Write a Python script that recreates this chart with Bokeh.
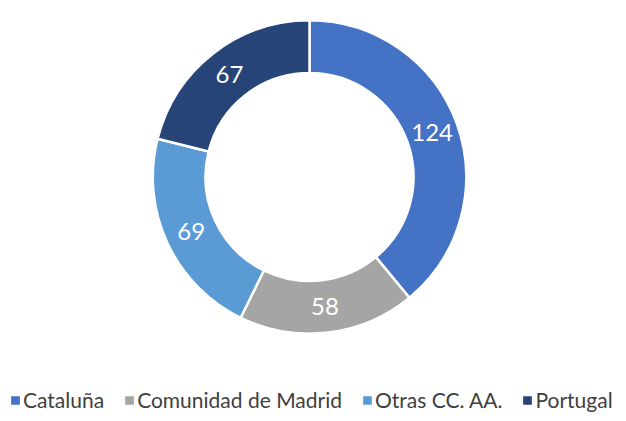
import numpy as np
from bokeh.plotting import figure
from bokeh.models import ColumnDataSource, Legend, LegendItem
from bokeh.core.properties import value
from bokeh.embed import file_html
from bokeh.resources import INLINE

categories = ["Cataluña", "Comunidad de Madrid", "Otras CC. AA.", "Portugal"]
values = [124, 58, 69, 67]
colors = ["#4472C4", "#A5A5A5", "#5B9BD5", "#264478"]

W, H = 618, 415
CX, CY = 309.0, H - 176.5
R_OUT, R_IN = 156.7, 104.0

vals = np.array(values, dtype=float)
frac = vals / vals.sum()
cum = np.concatenate([[0], np.cumsum(frac)])
start = np.pi / 2 - cum[:-1] * 2 * np.pi
end = np.pi / 2 - cum[1:] * 2 * np.pi
mid = (start + end) / 2
r_lab = (R_OUT + R_IN) / 2

src = ColumnDataSource(dict(
    cat=categories, val=values, color=colors, start=start, end=end,
    lx=CX + r_lab * np.cos(mid), ly=CY + r_lab * np.sin(mid),
    lab=[str(v) for v in values],
))

p = figure(width=W, height=H, x_range=(0, W), y_range=(0, H),
           output_backend="svg", toolbar_location=None, min_border=0)
p.axis.visible = False
p.grid.visible = False
p.outline_line_color = None
p.background_fill_color = "white"

wedge = p.annular_wedge(x=CX, y=CY, inner_radius=R_IN, outer_radius=R_OUT,
                        start_angle="start", end_angle="end", direction="clock",
                        fill_color="color", line_color="white", line_width=2.5,
                        source=src)

p.text(x="lx", y="ly", text="lab", source=src, text_color="white",
       text_font=value("Lato"), text_font_size="24px",
       text_align="center", text_baseline="middle")

items = [LegendItem(label=c, renderers=[wedge], index=i) for i, c in enumerate(categories)]
legend = Legend(items=items, orientation="horizontal", location=(8, 3),
                label_text_font="Lato", label_text_font_size="21px",
                label_text_color="#404040", glyph_width=14, glyph_height=14,
                label_standoff=1, spacing=18, padding=0, margin=0,
                border_line_alpha=0, background_fill_alpha=0)
p.add_layout(legend, "center")

open("out.html", "w").write(file_html(p, INLINE))
